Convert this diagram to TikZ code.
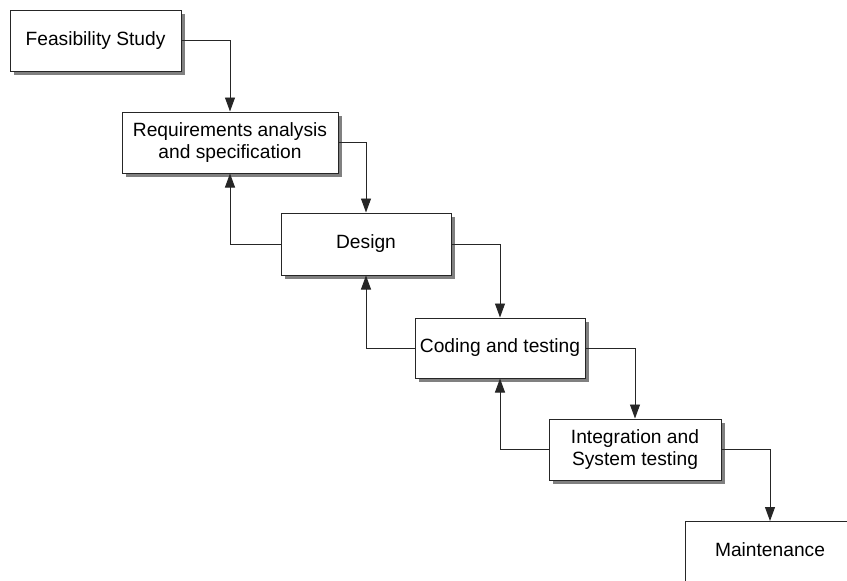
\documentclass[tikz,border=0pt]{standalone}
\usepackage{fontspec}
\setmainfont{Liberation Sans}
\usetikzlibrary{arrows.meta,shadows}
\begin{document}
\begin{tikzpicture}[x=1pt,y=-1pt,
  stage/.style={draw=black!85, line width=1pt, fill=white,
    drop shadow={shadow xshift=3.5pt, shadow yshift=-3.5pt, fill=black!50, opacity=1},
    align=center, inner sep=0pt, font=\fontsize{19.2}{22}\selectfont},
  caption/.style={inner sep=0pt, font=\fontsize{19.2}{22}\selectfont},
  flow/.style={draw=black!85, line width=0.9pt, -{Triangle[length=14pt,width=10pt]}}]
  \useasboundingbox (0,0) rectangle (847,581);

  % phases of the waterfall
  \node[stage, minimum width=171pt, minimum height=61pt] (fs)  at (95.5,40.5) {Feasibility Study};
  \node[stage, minimum width=216pt, minimum height=61pt] (req) at (230,142.5) {Requirements analysis\\and specification};
  \node[stage, minimum width=170pt, minimum height=62pt] (des) at (366,244) {Design};
  \node[stage, minimum width=170pt, minimum height=60pt] (cod) at (500,348) {Coding and testing};
  \node[stage, minimum width=172pt, minimum height=61pt] (int) at (635,449.5) {Integration and\\System testing};
  \node[stage, minimum width=200pt, minimum height=90pt, anchor=north west] (mnt) at (685,521) {};
  \node[caption] (mntlabel) at (770,550) {Maintenance};

  % forward flow
  \draw[flow] (fs.east)  -| (req.north);
  \draw[flow] (req.east) -| (des.north);
  \draw[flow] (des.east) -| (cod.north);
  \draw[flow] (cod.east) -| (int.north);
  \draw[flow] (int.east) -| (mntlabel |- mnt.north);

  % feedback to earlier phases
  \draw[flow] (des.west) -| (req.south);
  \draw[flow] (cod.west) -| (des.south);
  \draw[flow] (int.west) -| (cod.south);
\end{tikzpicture}
\end{document}
